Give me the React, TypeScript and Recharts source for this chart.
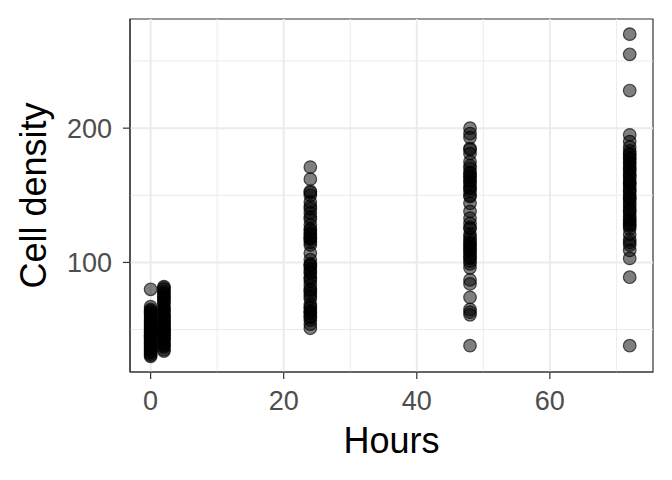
import { ScatterChart, Scatter, XAxis, YAxis, ReferenceLine, ReferenceArea } from 'recharts'

const HOURS = [0, 2, 24, 48, 72]

const DENSITY_0 = [80, 67, 65, 64, 63, 62, 61, 60, 58, 57, 56, 55, 54, 53, 52, 51, 50, 49, 48, 47, 46, 45, 45, 44, 43, 42, 41, 40, 39, 38, 37, 36, 35, 34, 33, 32, 31, 30]
const DENSITY_2 = [82, 81, 80, 78, 77, 75, 74, 73, 71, 70, 68, 66, 65, 64, 62, 61, 60, 59, 58, 57, 56, 55, 54, 53, 52, 51, 50, 49, 48, 47, 46, 45, 44, 43, 42, 40, 39, 38, 37, 35, 34]
const DENSITY_24 = [171, 162, 153, 152, 150, 145, 142, 140, 137, 134, 132, 128, 125, 124, 122, 121, 119, 118, 117, 115, 113, 107, 102, 99, 98, 97, 95, 93, 92, 89, 88, 86, 83, 80, 79, 77, 75, 73, 69, 67, 66, 64, 63, 62, 60, 59, 57, 54, 51]
const DENSITY_48 = [200, 196, 193, 185, 184, 181, 175, 172, 170, 167, 166, 164, 163, 161, 160, 158, 156, 155, 153, 150, 149, 144, 138, 133, 129, 126, 125, 121, 119, 117, 115, 114, 112, 111, 109, 108, 106, 104, 103, 101, 99, 96, 87, 84, 74, 65, 63, 61, 38]
const DENSITY_72 = [270, 255, 228, 195, 190, 186, 183, 181, 180, 178, 177, 175, 174, 172, 170, 169, 167, 165, 164, 162, 160, 159, 158, 156, 154, 153, 151, 149, 148, 147, 145, 143, 141, 139, 138, 136, 134, 132, 131, 129, 128, 127, 125, 121, 117, 115, 113, 109, 103, 89, 38]

const X_TICKS = [0, 20, 40, 60]
const X_MINOR = [10, 30, 50, 70]
const Y_TICKS = [100, 200]
const Y_MINOR = [50, 150, 250]

const X_DOMAIN: [number, number] = [-3.1, 75.5]
const Y_DOMAIN: [number, number] = [18.4, 281.3]

const groups = [DENSITY_0, DENSITY_2, DENSITY_24, DENSITY_48, DENSITY_72]
const data = groups.flatMap((vals, i) => vals.map(v => ({ hours: HOURS[i], density: v })))

const FONT = '"Liberation Sans", Arial, sans-serif'
const GRID = '#ebebeb'

const Dot = (p: any) => (
  <circle cx={p.cx} cy={p.cy} r={6.3} fill="#000" fillOpacity={0.5} stroke="#000" strokeOpacity={0.65} strokeWidth={1.2} />
)

export default function App() {
  return (
    <div style={{ position: 'absolute', left: 0, top: 0, background: '#fff' }}>
      <ScatterChart width={672} height={480} margin={{ top: 19, right: 19, left: 0, bottom: 0 }}>
        {X_MINOR.map(v => <ReferenceLine key={'xm' + v} x={v} stroke={GRID} strokeWidth={1} />)}
        {Y_MINOR.map(v => <ReferenceLine key={'ym' + v} y={v} stroke={GRID} strokeWidth={1} />)}
        {X_TICKS.map(v => <ReferenceLine key={'x' + v} x={v} stroke={GRID} strokeWidth={2} />)}
        {Y_TICKS.map(v => <ReferenceLine key={'y' + v} y={v} stroke={GRID} strokeWidth={2} />)}
        <XAxis
          type="number"
          dataKey="hours"
          domain={X_DOMAIN}
          ticks={X_TICKS}
          allowDataOverflow
          height={108}
          tickSize={7}
          tickMargin={12}
          axisLine={{ stroke: '#333', strokeWidth: 1.2 }}
          tickLine={{ stroke: '#333', strokeWidth: 1.2 }}
          tick={{ fill: '#4d4d4d', fontSize: 27, fontFamily: FONT }}
          label={{
            content: ({ viewBox }: any) => (
              <text x={viewBox.x + viewBox.width / 2} y={453} textAnchor="middle" fontSize={36} fontFamily={FONT} fill="#000">
                Hours
              </text>
            ),
          }}
        />
        <YAxis
          type="number"
          dataKey="density"
          domain={Y_DOMAIN}
          ticks={Y_TICKS}
          allowDataOverflow
          width={130}
          tickSize={7}
          tickMargin={11}
          axisLine={{ stroke: '#333', strokeWidth: 1.2 }}
          tickLine={{ stroke: '#333', strokeWidth: 1.2 }}
          tick={{ fill: '#4d4d4d', fontSize: 27, fontFamily: FONT }}
          label={{
            content: ({ viewBox }: any) => {
              const cy = viewBox.y + viewBox.height / 2
              return (
                <text x={46} y={cy} transform={`rotate(-90 46 ${cy})`} textAnchor="middle" fontSize={36} fontFamily={FONT} fill="#000">
                  Cell density
                </text>
              )
            },
          }}
        />
        <ReferenceArea x1={X_DOMAIN[0]} x2={X_DOMAIN[1]} y1={Y_DOMAIN[0]} y2={Y_DOMAIN[1]} fill="none" stroke="#333" strokeWidth={1.2} />
        <Scatter data={data} shape={Dot} isAnimationActive={false} />
      </ScatterChart>
    </div>
  )
}
